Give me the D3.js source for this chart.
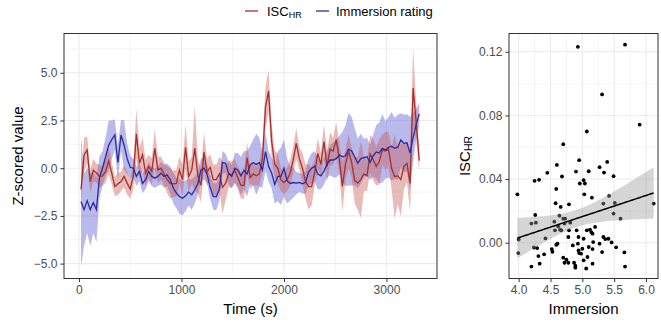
<!DOCTYPE html>
<html><head><meta charset="utf-8">
<script src="https://cdn.jsdelivr.net/npm/d3@7"></script>
<style>
html,body{margin:0;padding:0;background:#fff;}
svg{display:block;font-family:"Liberation Sans",Arial,Helvetica,sans-serif;}
</style></head>
<body><svg id="c" width="661" height="327"></svg>
<script>
// ---- Time series (left panel) ----
const timeSec = [20,50,80,110,140,170,200,230,260,290,
320,350,380,410,440,470,500,530,560,590,
620,650,680,710,740,770,800,830,860,890,
920,950,980,1010,1040,1070,1100,1130,1160,1190,
1220,1250,1280,1310,1340,1370,1400,1430,1460,1490,
1520,1550,1580,1610,1640,1670,1700,1730,1760,1790,
1820,1850,1880,1910,1940,1970,2000,2030,2060,2090,
2120,2150,2180,2210,2240,2270,2300,2330,2360,2390,
2420,2450,2480,2510,2540,2570,2600,2630,2660,2690,
2720,2750,2780,2810,2840,2870,2900,2930,2960,2990,
3020,3050,3080,3110,3140,3170,3200,3230,3260,3290,
3320];
const iscHR = [-1.1,0.7,0.96,-0.7,-0.1,-0.25,-0.43,-0.4,-0.17,0.38,
-0.26,-0.96,-0.82,-0.7,-0.43,-0.78,-1.1,-0.43,1.8,0.26,
0.7,-0.26,0.09,-0.17,1.04,-0.09,0.0,-0.3,-0.6,-0.8,
-0.82,-0.8,-0.1,-0.6,1.1,-0.43,-0.1,1.05,-0.4,-0.9,
0.85,-0.2,0.05,-0.6,-0.6,-0.3,-1.0,-0.8,-0.3,-0.35,
-0.1,-0.5,-0.9,-0.9,0.55,-0.5,-0.3,-0.4,-0.3,0.5,
3.2,4.05,1.4,0.2,0.0,-0.6,-0.75,-0.6,-0.26,0.43,
1.3,0.5,0.0,-0.7,-0.96,-0.96,-0.2,0.78,0.2,1.4,
0.1,1.0,0.9,1.5,0.5,-0.96,0.2,0.9,0.3,-0.65,
-0.78,-0.6,-0.3,-0.4,0.75,0.45,0.1,0.35,0.96,0.9,
1.0,0.0,-0.43,-0.4,-0.6,0.1,0.25,-0.8,4.2,2.4,
0.4];
const iscHRse = [0.5,0.9,0.7,0.6,0.6,0.5,0.6,0.5,0.6,0.7,
0.6,0.5,0.6,0.5,0.6,0.6,0.5,0.7,1.3,0.8,
0.9,0.7,0.6,0.7,1.0,0.7,0.6,0.6,0.7,0.8,
0.7,0.7,0.7,0.8,1.2,0.8,0.7,2.2,0.9,0.9,
1.0,0.7,0.7,0.8,0.8,0.9,1.4,0.9,0.7,0.7,
0.6,0.6,0.7,0.7,0.8,0.6,0.6,0.5,0.6,0.8,
1.1,1.1,0.9,0.7,0.8,0.6,0.6,0.6,0.7,0.7,
0.8,0.6,0.8,0.9,1.2,1.0,0.7,0.8,0.6,0.9,
0.8,0.9,0.7,0.9,0.8,1.3,0.8,0.9,0.8,1.2,
1.4,2.0,0.9,0.8,1.0,1.1,1.0,1.2,0.8,1.0,
0.9,1.1,2.2,1.5,1.9,1.2,1.0,1.5,2.1,1.0,
0.6];
const immersionRating = [-1.74,-2.17,-1.7,-2.17,-1.8,-2.17,-0.5,0.0,0.6,1.2,
1.5,1.75,0.3,1.74,1.22,0.5,0.05,0.0,-0.43,-0.17,
-0.8,-0.6,-0.17,-0.43,-0.52,-0.43,-0.26,-0.43,-0.35,-0.61,
-1.04,-1.3,-1.48,-1.57,-1.45,-1.25,-1.39,-1.13,-0.8,-0.1,
0.0,-0.3,-1.0,-1.48,-1.5,-1.1,0.3,0.26,-0.26,-0.43,
0.0,-0.1,-0.4,-0.1,-0.3,0.17,0.3,0.2,0.3,-0.1,
0.87,0.1,-0.26,-0.85,-0.43,-0.43,0.0,-0.65,-0.8,-0.75,
-0.78,-0.75,-0.82,-0.75,-0.2,0.0,0.1,-0.3,-0.4,-0.15,
0.2,0.43,0.43,0.5,0.7,0.6,0.65,1.0,0.9,0.6,
0.26,0.5,0.55,0.6,0.3,0.65,0.85,0.8,1.04,0.96,
1.1,1.15,1.04,1.1,1.48,1.3,1.33,0.8,1.6,2.3,
2.85];
const immersionRatingSe = [3.4,1.9,1.7,1.9,1.6,1.7,1.1,0.9,1.0,1.3,
1.0,0.8,0.9,0.8,1.3,0.8,0.6,0.5,0.5,0.5,
0.5,0.5,0.5,0.5,0.5,0.5,0.6,0.6,0.6,0.7,
0.8,0.8,0.9,0.9,0.8,0.7,0.8,0.7,0.6,0.6,
0.6,0.5,0.6,0.7,0.7,0.6,0.6,0.5,0.6,0.6,
0.8,0.9,1.0,1.0,1.2,1.0,1.2,1.6,1.3,0.9,
1.0,0.8,0.8,1.0,1.3,1.5,1.5,1.2,0.9,0.8,
0.6,0.5,0.5,0.6,0.7,0.8,0.8,0.8,0.7,0.7,
0.7,0.8,0.9,1.0,1.0,1.3,1.6,1.9,1.8,1.5,
1.3,1.3,1.0,1.0,0.9,1.1,1.4,1.6,1.8,1.5,
1.6,1.8,1.6,1.7,1.4,1.5,1.5,1.9,1.3,0.8,
0.6];
const xTicksLeft = [0,1000,2000,3000];
const yTicksLeft = [-5,-2.5,0,2.5,5];

// ---- Scatter (right panel) ----
const immersion = [3.98,3.995,4.0,4.2,4.2,4.27,4.26,4.25,4.32,4.24,4.29,4.31,4.33,4.40,4.42,4.45,4.52,4.53,4.59,4.61,
4.57,4.56,4.58,4.60,4.59,4.68,4.66,4.64,4.65,4.70,4.70,4.73,4.72,4.67,4.62,4.70,4.72,4.75,4.78,4.79,
4.79,4.81,4.78,4.87,4.89,4.89,4.90,4.93,4.95,4.96,5.02,5.04,5.03,5.07,5.10,5.15,4.91,4.94,4.93,4.94,
4.95,4.98,5.0,5.02,5.02,5.06,5.08,5.10,5.12,5.14,5.16,5.17,5.16,5.20,5.27,5.31,5.34,5.33,5.39,5.42,
5.33,5.36,5.41,5.46,5.49,5.51,5.49,5.53,5.60,5.66,5.67,5.67,5.90,6.12,5.31,5.16,4.85,5.07,5.27];
const iscPoints = [0.0304,-0.0065,0.002,-0.015,0.012,0.0126,0.0174,0.0389,0.0395,-0.003,-0.0034,-0.0084,-0.0132,-0.0073,0.0027,0.0439,-0.004,-0.0057,-0.0013,-0.0006,
0.0078,0.0132,0.0248,0.0489,0.0338,0.0416,0.0225,0.017,0.0082,0.0619,0.0151,0.0151,0.012,0.0078,0.0103,-0.0094,-0.0126,-0.0107,-0.0126,0.0241,
0.0078,0.0126,0.0036,-0.0126,-0.0145,-0.0157,0.0447,0.1231,0.0519,0.0372,0.0393,0.0372,0.0304,0.0699,0.0449,0.0283,0.0078,0.0036,-0.0006,-0.0048,
-0.0065,-0.0069,-0.0038,0.0025,-0.0111,-0.0162,-0.009,-0.0027,0.0082,0.0067,0.0057,0.0004,-0.004,0.0099,0.0475,0.0932,0.0441,0.0246,0.0508,0.0294,
0.0036,0.0023,0.0025,0.0002,0.0418,0.025,0.0183,-0.0029,0.0151,-0.0061,-0.015,0.1245,0.0742,0.0246,-0.0059,-0.0132,-0.0017,0.0078,-0.0006];
const xTicksRight = [4.0,4.5,5.0,5.5,6.0];
const yTicksRight = [0.00,0.04,0.08,0.12];

// ---- Drawing ----
const svg = d3.select("#c");
const gridCol = "#ebebeb", borderCol = "#333333", tickTxt = "#4d4d4d";
const redLine = "#a3302e", blueLine = "#2a2a9e";
const redFill = "#c95a55", blueFill = "#6464d2";

const L = {x0:64, x1:437, y0:33.5, y1:278.5};
const R = {x0:509, x1:658, y0:33.5, y1:278.5};

const xL = d3.scaleLinear().domain([-146, 3493]).range([L.x0, L.x1]);
const yL = d3.scaleLinear().domain([-5.78, 7.06]).range([L.y1, L.y0]);
const xR = d3.scaleLinear().domain([3.848, 6.188]).range([R.x0, R.x1]);
const yR = d3.scaleLinear().domain([-0.0225, 0.1315]).range([R.y1, R.y0]);

function panelGrid(P, xs, ys, xMaj, xMin, yMaj, yMin){
  const g = svg.append("g");
  xMin.forEach(v=>g.append("line").attr("x1",xs(v)).attr("x2",xs(v)).attr("y1",P.y0).attr("y2",P.y1).attr("stroke",gridCol).attr("stroke-width",0.55));
  yMin.forEach(v=>g.append("line").attr("y1",ys(v)).attr("y2",ys(v)).attr("x1",P.x0).attr("x2",P.x1).attr("stroke",gridCol).attr("stroke-width",0.55));
  xMaj.forEach(v=>g.append("line").attr("x1",xs(v)).attr("x2",xs(v)).attr("y1",P.y0).attr("y2",P.y1).attr("stroke",gridCol).attr("stroke-width",1.1));
  yMaj.forEach(v=>g.append("line").attr("y1",ys(v)).attr("y2",ys(v)).attr("x1",P.x0).attr("x2",P.x1).attr("stroke",gridCol).attr("stroke-width",1.1));
}
function panelAxes(P, xs, ys, xt, yt, xfmt, yfmt){
  const gx = svg.append("g").attr("transform",`translate(0,${P.y1})`)
    .call(d3.axisBottom(xs).tickValues(xt).tickFormat(xfmt).tickSize(3.6).tickPadding(3));
  gx.select(".domain").remove();
  gx.selectAll(".tick line").attr("stroke",borderCol).attr("stroke-width",1);
  gx.selectAll(".tick text").attr("fill",tickTxt).style("font-size","12px").style("font-family","Liberation Sans, Arial, sans-serif");
  const gy = svg.append("g").attr("transform",`translate(${P.x0},0)`)
    .call(d3.axisLeft(ys).tickValues(yt).tickFormat(yfmt).tickSize(3.6).tickPadding(3));
  gy.select(".domain").remove();
  gy.selectAll(".tick line").attr("stroke",borderCol).attr("stroke-width",1);
  gy.selectAll(".tick text").attr("fill",tickTxt).style("font-size","12px").style("font-family","Liberation Sans, Arial, sans-serif");
  svg.append("rect").attr("x",P.x0).attr("y",P.y0).attr("width",P.x1-P.x0).attr("height",P.y1-P.y0)
    .attr("fill","none").attr("stroke",borderCol).attr("stroke-width",1);
}

// Left panel
panelGrid(L, xL, yL, xTicksLeft, [500,1500,2500], yTicksLeft, [-3.75,-1.25,1.25,3.75,6.25]);
const clipL = svg.append("clipPath").attr("id","clipL").append("rect")
  .attr("x",L.x0).attr("y",L.y0).attr("width",L.x1-L.x0).attr("height",L.y1-L.y0);
const gL = svg.append("g").attr("clip-path","url(#clipL)");
const idx = d3.range(timeSec.length);
const area = (vals, se) => d3.area().x(i=>xL(timeSec[i])).y0(i=>yL(vals[i]-se[i])).y1(i=>yL(vals[i]+se[i]));
const line = vals => d3.line().x(i=>xL(timeSec[i])).y(i=>yL(vals[i]));
gL.append("path").attr("d",area(immersionRating,immersionRatingSe)(idx)).attr("fill",blueFill).attr("fill-opacity",0.45);
gL.append("path").attr("d",area(iscHR,iscHRse)(idx)).attr("fill",redFill).attr("fill-opacity",0.42);
gL.append("path").attr("d",line(iscHR)(idx)).attr("fill","none").attr("stroke",redLine).attr("stroke-width",1.3);
gL.append("path").attr("d",line(immersionRating)(idx)).attr("fill","none").attr("stroke",blueLine).attr("stroke-width",1.3);
panelAxes(L, xL, yL, xTicksLeft, yTicksLeft, d3.format("d"), d3.format(".1f"));

// Right panel
panelGrid(R, xR, yR, xTicksRight, [4.25,4.75,5.25,5.75], yTicksRight, [-0.02,0.02,0.06,0.10]);
const n = Math.min(immersion.length, iscPoints.length);
const pts = d3.range(n).map(i=>({x:immersion[i], y:iscPoints[i]}));
const mx = d3.mean(pts,d=>d.x), my = d3.mean(pts,d=>d.y);
const sxx = d3.sum(pts,d=>(d.x-mx)**2), sxy = d3.sum(pts,d=>(d.x-mx)*(d.y-my));
const b1 = sxy/sxx, b0 = my - b1*mx;
const s = Math.sqrt(d3.sum(pts,d=>(d.y-b0-b1*d.x)**2)/(n-2));
const tcrit = 1.985;
const xExt = d3.extent(pts,d=>d.x);
const grid = d3.range(0,81).map(k=>xExt[0]+(xExt[1]-xExt[0])*k/80);
const band = grid.map(x=>{const f=b0+b1*x, se=s*Math.sqrt(1/n+(x-mx)**2/sxx); return {x, lo:f-tcrit*se, hi:f+tcrit*se, f};});
const clipR = svg.append("clipPath").attr("id","clipR").append("rect")
  .attr("x",R.x0).attr("y",R.y0).attr("width",R.x1-R.x0).attr("height",R.y1-R.y0);
const gR = svg.append("g").attr("clip-path","url(#clipR)");
gR.selectAll("circle").data(pts).enter().append("circle")
  .attr("cx",d=>xR(d.x)).attr("cy",d=>yR(d.y)).attr("r",1.9).attr("fill","#000");
gR.append("path").attr("d",d3.area().x(d=>xR(d.x)).y0(d=>yR(d.lo)).y1(d=>yR(d.hi))(band))
  .attr("fill","#999999").attr("fill-opacity",0.4);
gR.append("path").attr("d",d3.line().x(d=>xR(d.x)).y(d=>yR(d.f))(band))
  .attr("fill","none").attr("stroke","#000").attr("stroke-width",1.5);
panelAxes(R, xR, yR, xTicksRight, yTicksRight, d3.format(".1f"), d3.format(".2f"));

// Axis titles
const ff = "Liberation Sans, Arial, sans-serif";
svg.append("text").attr("x",(L.x0+L.x1)/2).attr("y",314).attr("text-anchor","middle")
  .style("font-size","15px").style("font-family",ff).attr("fill","#000").text("Time (s)");
svg.append("text").attr("x",(R.x0+R.x1)/2).attr("y",314).attr("text-anchor","middle")
  .style("font-size","15px").style("font-family",ff).attr("fill","#000").text("Immersion");
svg.append("text").attr("transform",`translate(23,${(L.y0+L.y1)/2}) rotate(-90)`).attr("text-anchor","middle")
  .style("font-size","15px").style("font-family",ff).attr("fill","#000").text("Z-scored value");
const yt = svg.append("text").attr("transform",`translate(470,${(R.y0+R.y1)/2}) rotate(-90)`).attr("text-anchor","middle")
  .style("font-size","15px").style("font-family",ff).attr("fill","#000");
yt.append("tspan").text("ISC");
yt.append("tspan").attr("dy",2).style("font-size","10.5px").text("HR");

// Legend
const lg = svg.append("g");
lg.append("line").attr("x1",245).attr("x2",258).attr("y1",11).attr("y2",11).attr("stroke",redLine).attr("stroke-width",1.3);
const lt = lg.append("text").attr("x",267).attr("y",16).style("font-size","13px").style("font-family",ff).attr("fill","#000");
lt.append("tspan").text("ISC");
lt.append("tspan").attr("dy",1.5).style("font-size","9px").text("HR");
lg.append("line").attr("x1",316).attr("x2",329).attr("y1",11).attr("y2",11).attr("stroke",blueLine).attr("stroke-width",1.3);
lg.append("text").attr("x",336).attr("y",16).style("font-size","13px").style("font-family",ff).attr("fill","#000").text("Immersion rating");
</script></body></html>
